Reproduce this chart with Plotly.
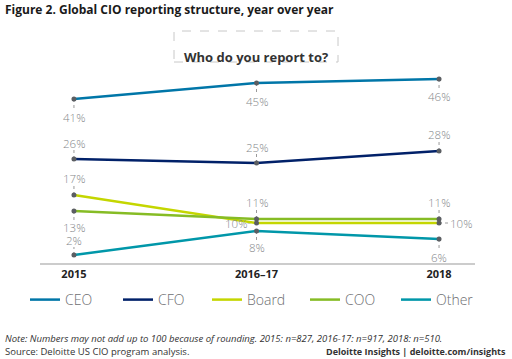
import plotly.graph_objects as go

periods = ["2015", "2016\u201317", "2018"]
series_names = ["CEO", "CFO", "Board", "COO", "Other"]
ceo = [41, 45, 46]
cfo = [26, 25, 28]
board = [17, 10, 10]
coo = [13, 11, 11]
other = [2, 8, 6]
colors = ["#0076A8", "#012169", "#C4D600", "#86BC25", "#0097A9"]
legend_left_px = [25, 118, 207, 305, 396]

# label placement per point: (dx_px, dy_px)
label_offsets = {
    "CEO": [(0, -18), (0, -18), (0, -17)],
    "CFO": [(0, 16), (0, 16), (0, 17)],
    "Board": [(0, 17), (-21, 0), (22, 0)],
    "COO": [(0, -16), (0, 17), (0, 17)],
    "Other": [(0, 15), (0, -16), (0, -18)],
}

values = {"CEO": ceo, "CFO": cfo, "Board": board, "COO": coo, "Other": other}
xs = list(range(len(periods)))

PL, PW, PT, PH = 40, 435, 63, 200

fig = go.Figure()
legend_layout = {}
for k, (name, col) in enumerate(zip(series_names, colors)):
    lname = "legend" if k == 0 else f"legend{k + 1}"
    fig.add_trace(go.Scatter(x=xs, y=values[name], mode="lines", name=name, legend=lname,
                             line=dict(color=col, width=2.5), hoverinfo="skip"))
    legend_layout[lname] = dict(orientation="h", x=(legend_left_px[k] - PL) / PW, xanchor="left",
                                y=(PT + PH - 300) / PH, yanchor="middle",
                                font=dict(family="Open Sans", size=14, color="#6d6e71", weight=300),
                                bgcolor="rgba(0,0,0,0)")
for name in series_names:
    fig.add_trace(go.Scatter(x=xs, y=values[name], mode="markers", showlegend=False,
                             marker=dict(color="#5b5e62", size=5), hoverinfo="skip"))

annotations = []
shapes = []
for name in series_names:
    for i, v in enumerate(values[name]):
        dx, dy = label_offsets[name][i]
        annotations.append(dict(x=xs[i], y=v, xref="x", yref="y", text=f"{v}%",
                                showarrow=False, xshift=dx, yshift=dy,
                                font=dict(family="Open Sans", size=11.5, color="#85878a", weight=300)))
        if dy != 0:
            end = dy - 7 if dy > 0 else dy + 7
            shapes.append(dict(type="line", xref="x", yref="y", ysizemode="pixel",
                               yanchor=v, x0=xs[i], x1=xs[i], y0=0, y1=end,
                               line=dict(color="#9a9a9a", width=1, dash="dot"), layer="below"))
        else:
            end = dx + 12 if dx < 0 else dx - 11
            shapes.append(dict(type="line", xref="x", yref="y", xsizemode="pixel",
                               xanchor=xs[i], x0=0, x1=end, y0=v, y1=v,
                               line=dict(color="#9a9a9a", width=1, dash="dot"), layer="below"))

# header box
shapes.append(dict(type="rect", xref="paper", yref="paper", x0=(174 - PL) / PW, x1=(338 - PL) / PW,
                   y0=(PT + PH - 62) / PH, y1=(PT + PH - 31) / PH,
                   line=dict(color="#c8c8c8", width=1, dash="dash")))
annotations.append(dict(xref="paper", yref="paper", x=(256 - PL) / PW, y=(PT + PH - 46) / PH,
                        text="<b>Who do you report to?</b>", showarrow=False,
                        font=dict(family="Open Sans", size=13, color="#333333")))

annotations.append(dict(xref="paper", yref="paper", x=(3 - PL) / PW, y=(PT + PH - 9) / PH,
                        xanchor="left", yanchor="middle",
                        text="<b>Figure 2. Global CIO reporting structure, year over year</b>",
                        showarrow=False, font=dict(family="Open Sans", size=12, color="#1a1a1a")))
annotations.append(dict(xref="paper", yref="paper", x=(3 - PL) / PW, y=(PT + PH - 338) / PH,
                        xanchor="left", yanchor="middle",
                        text="<i>Note: Numbers may not add up to 100 because of rounding. 2015: n=827, 2016-17: n=917, 2018: n=510.</i>",
                        showarrow=False, font=dict(family="Open Sans", size=9.5, color="#333333")))
annotations.append(dict(xref="paper", yref="paper", x=(3 - PL) / PW, y=(PT + PH - 351) / PH,
                        xanchor="left", yanchor="middle",
                        text="Source: Deloitte US CIO program analysis.",
                        showarrow=False, font=dict(family="Open Sans", size=9.5, color="#333333")))
annotations.append(dict(xref="paper", yref="paper", x=(508 - PL) / PW, y=(PT + PH - 351) / PH,
                        xanchor="right", yanchor="middle",
                        text="<b>Deloitte Insights | deloitte.com/insights</b>",
                        showarrow=False, font=dict(family="Open Sans", size=9, color="#333333")))

fig.update_layout(
    width=512, height=359,
    margin=dict(l=PL, r=512 - PL - PW, t=PT, b=359 - PT - PH),
    paper_bgcolor="white", plot_bgcolor="white",
    showlegend=True,
    xaxis=dict(range=[-0.186, 2.197], tickvals=xs, ticktext=periods, showgrid=False,
               zeroline=False, showline=True, linecolor="#cccccc", linewidth=1.5,
               ticks="", tickfont=dict(family="Open Sans", size=11, color="#222222", weight="bold")),
    yaxis=dict(range=[0, 50], visible=False, showgrid=False, zeroline=False),
    annotations=annotations, shapes=shapes,
    **legend_layout,
)

fig.write_html("out.html", config={"displayModeBar": False},
               post_script="document.body.style.margin='0';")
